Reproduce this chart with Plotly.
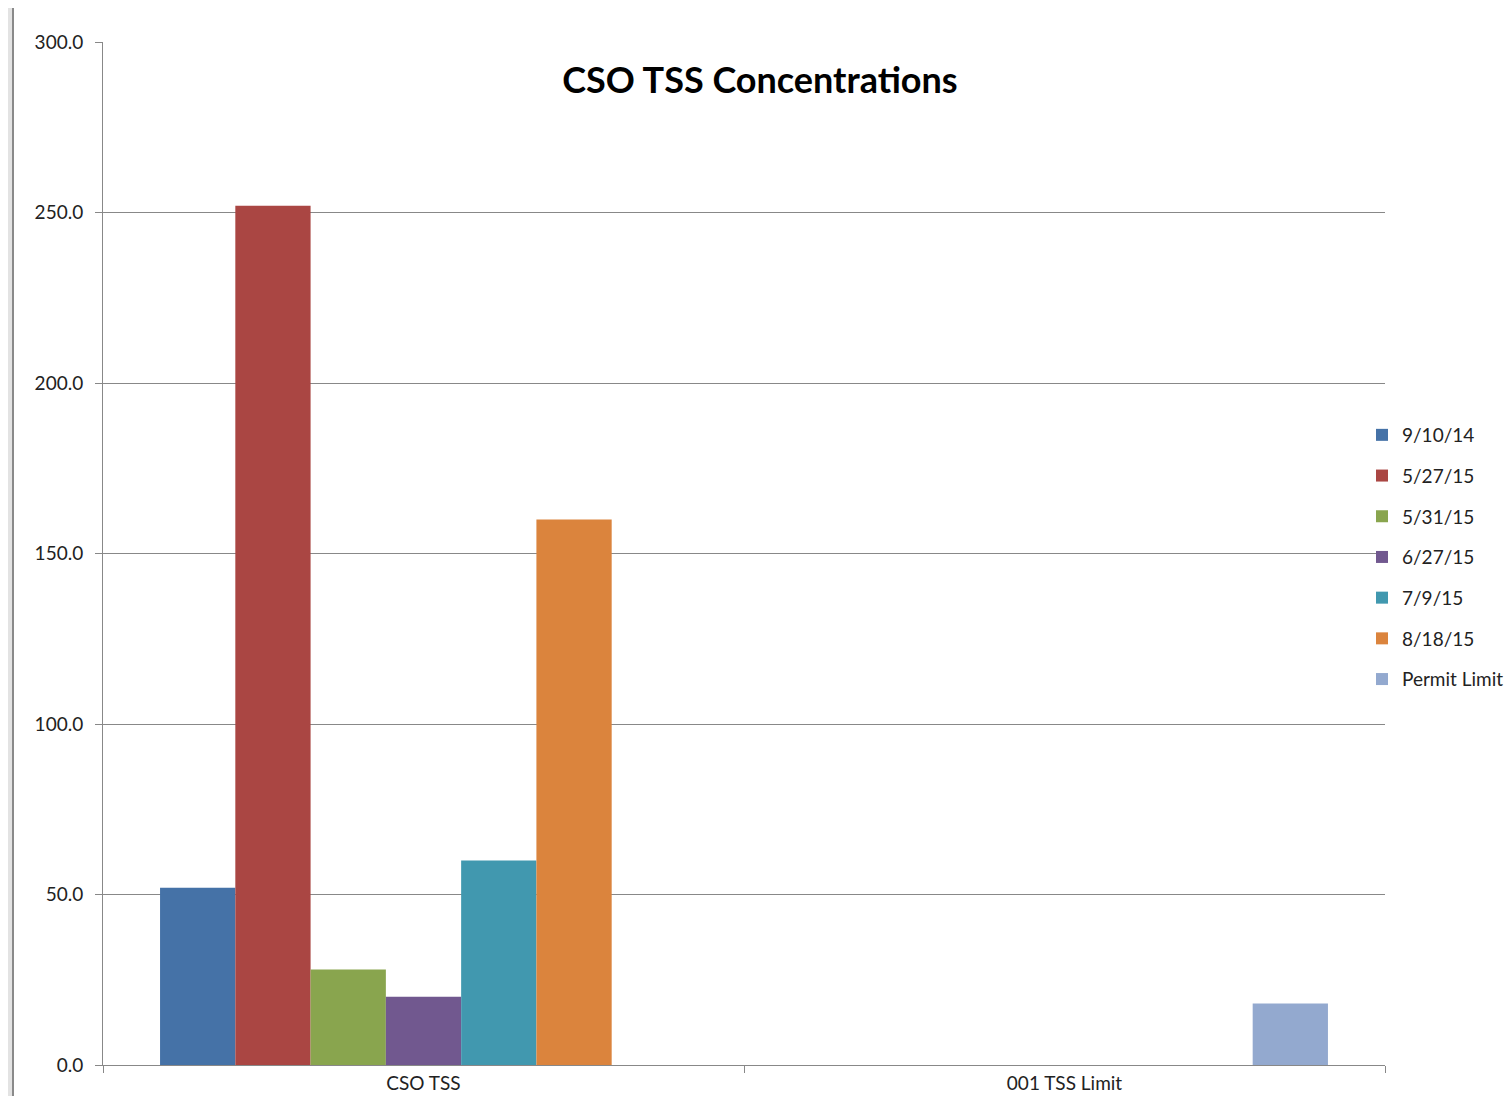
import plotly.graph_objects as go

categories = ["CSO TSS", "001 TSS Limit"]
series_names = ["9/10/14", "5/27/15", "5/31/15", "6/27/15", "7/9/15", "8/18/15", "Permit Limit"]
series_values = [
    [52, None],
    [252, None],
    [28, None],
    [20, None],
    [60, None],
    [160, None],
    [None, 18],
]
colors = ["#4572A7", "#AA4643", "#89A54E", "#71588F", "#4198AF", "#DB843D", "#93A9CF"]
y_ticks = [0, 50, 100, 150, 200, 250, 300]

FONT = "Lato"

fig = go.Figure()
for i, (name, vals) in enumerate(zip(series_names, series_values)):
    fig.add_trace(go.Bar(
        x=categories, y=vals, name=name,
        marker=dict(color=colors[i], line=dict(width=0)),
        legendgroup=f"g{i}",
    ))

# page sits inside an 8px body margin, so size the figure to fit the window
OFF = 8
W, H = 1512 - 2 * OFF, 1104 - 2 * OFF
# plot area edges in page pixels
L, R, T, B = 103, 1385, 42, 1065


def px_x(p):
    return (p - L) / (R - L)


def px_y(p):
    return (B - p) / (B - T)


shapes = [
    # gray window frame at the left
    dict(type="rect", xref="paper", yref="paper", x0=px_x(OFF), x1=px_x(12), y0=px_y(1110), y1=px_y(OFF),
         fillcolor="#E3E3E3", line=dict(width=0), layer="above"),
    dict(type="line", xref="paper", yref="paper", x0=px_x(13), x1=px_x(13), y0=px_y(1110), y1=px_y(OFF),
         line=dict(color="#8A8A8A", width=2), layer="above"),
]

fig.update_layout(
    width=W, height=H,
    margin=dict(l=L - OFF, r=W + OFF - R, t=T - OFF, b=H + OFF - B, pad=0, autoexpand=False),
    paper_bgcolor="white", plot_bgcolor="white",
    font=dict(family=FONT, size=19, color="#222222"),
    title=dict(text="<b>CSO TSS Concentrations</b>", x=(760 - OFF) / W, y=1 - (80 - OFF) / H,
               xanchor="center", yanchor="middle", font=dict(family=FONT, size=36, color="black")),
    barmode="group", bargap=0.178, bargroupgap=0,
    showlegend=True,
    legend=dict(x=px_x(1362), y=px_y(557), xanchor="left", yanchor="middle",
                traceorder="grouped", tracegroupgap=13, itemwidth=30,
                font=dict(family=FONT, size=19, color="#222222"), bgcolor="rgba(0,0,0,0)"),
    shapes=shapes,
)
fig.update_xaxes(
    showline=True, linecolor="#888888", linewidth=1,
    ticks="outside", tickson="boundaries", ticklen=7, tickcolor="#888888",
    ticklabelstandoff=1, automargin=False,
    showgrid=False,
)
fig.update_yaxes(
    range=[0, 300], tickvals=y_ticks, tickformat=".1f",
    showline=True, linecolor="#888888", linewidth=1,
    ticks="outside", ticklen=7, tickcolor="#888888",
    ticklabelstandoff=8, automargin=False,
    showgrid=True, gridcolor="#888888", gridwidth=1, zeroline=False,
)

fig.write_html("out.html")
